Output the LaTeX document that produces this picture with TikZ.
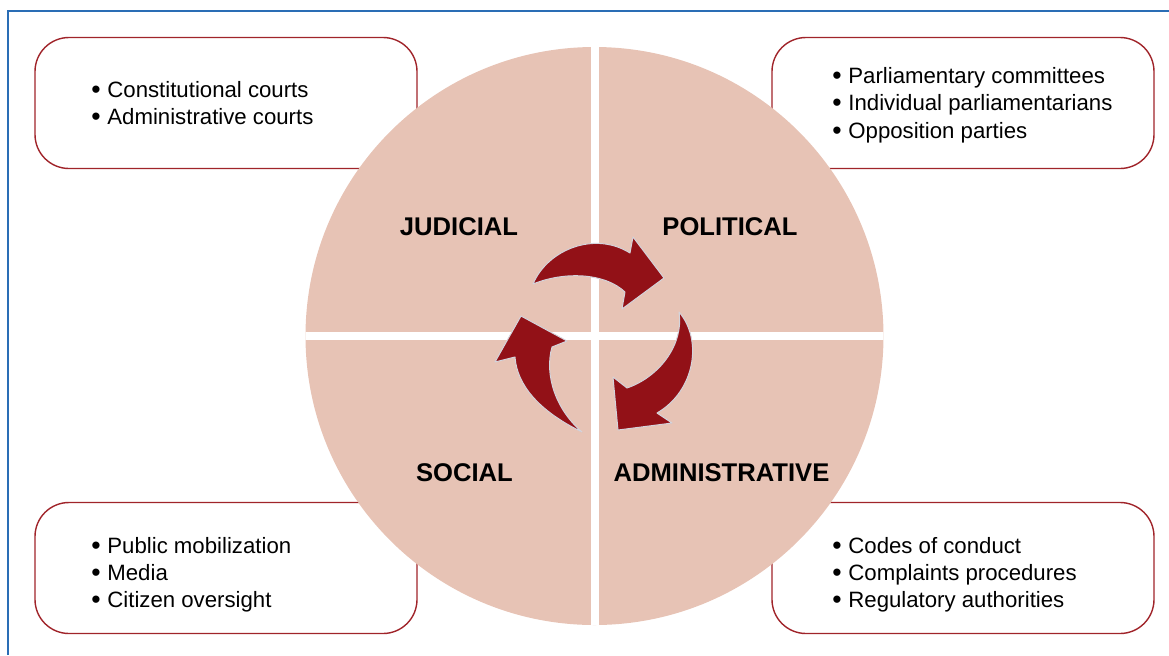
\documentclass[tikz,border=0pt]{standalone}
\usepackage{graphicx}
\usepackage{fontspec}
\setmainfont{Liberation Sans}
\definecolor{framebl}{HTML}{2A6DB5}
\definecolor{boxred}{HTML}{A0242A}
\definecolor{wheelfill}{HTML}{E7C3B5}
\definecolor{arrowred}{HTML}{921117}
\definecolor{arrowedge}{HTML}{D4D4DC}
\newcommand{\bul}{\makebox[8pt][l]{\raisebox{-0.06em}{\scalebox{1.2}{\textbullet}}}}
\begin{document}
\begin{tikzpicture}[x=0.5pt,y=-0.5pt,
  box/.style={draw=boxred, line width=0.7pt, rounded corners=17pt,
    minimum width=191pt, minimum height=65.5pt, inner sep=0pt},
  item/.style={anchor=base west, inner sep=0pt, font=\fontsize{11.1}{13}\selectfont},
  head/.style={anchor=base, inner sep=0pt, font=\fontsize{12.8}{15}\selectfont\bfseries},
  cyclearrow/.style={fill=arrowred, draw=arrowedge, line width=0.5pt, line join=round}]
\useasboundingbox (0,0) rectangle (1169,655);
% frame
\draw[framebl, line width=0.7pt] (8,655) -- (8,11) -- (1169,11);
% boxes
\node[box] (jbox) at (226,103) {};
\node[box] (pbox) at (963,103) {};
\node[box] (sbox) at (226,568) {};
\node[box] (abox) at (963,568) {};
% wheel
\node[circle, fill=wheelfill, minimum size=289pt, inner sep=0pt] (wheel) at (594.5,336) {};
\begin{scope}
  \clip (wheel.center) circle[radius=144.5pt];
  \fill[white] (590.5,30) rectangle (598.5,640);
  \fill[white] (290,332) rectangle (900,340);
\end{scope}
% headings
\node[head] (hj) at (459,235) {JUDICIAL};
\node[head] (hp) at (730,235) {POLITICAL};
\node[head] (hs) at (464.5,481) {SOCIAL};
\node[head] (ha) at (721.5,481) {ADMINISTRATIVE};
% arrows
\path[cyclearrow] (533,284) .. controls (548,249) and (595,231) .. (630,253)
  -- (633,237) -- (664,278) -- (622,309) -- (625,292)
  .. controls (605,273) and (565,271) .. (533,284) -- cycle;
\path[cyclearrow] (679,312) .. controls (703,340) and (695,391) .. (657,413)
  -- (672,423) -- (618,430) -- (613,377) -- (627,388)
  .. controls (659,377) and (684,345) .. (679,312) -- cycle;
\path[cyclearrow] (582,432) .. controls (539,411) and (517,385) .. (515,357)
  -- (495,362) -- (521,316) -- (567,341) -- (552,347)
  .. controls (544,375) and (556,410) .. (582,432) -- cycle;
% lists
\node[item] (j1) at (91,97) {\bul Constitutional courts};
\node[item] (j2) at (91,124) {\bul Administrative courts};
\node[item] (p1) at (832,83) {\bul Parliamentary committees};
\node[item] (p2) at (832,110.5) {\bul Individual parliamentarians};
\node[item] (p3) at (832,138) {\bul Opposition parties};
\node[item] (s1) at (91,553) {\bul Public mobilization};
\node[item] (s2) at (91,580) {\bul Media};
\node[item] (s3) at (91,607) {\bul Citizen oversight};
\node[item] (a1) at (832,553) {\bul Codes of conduct};
\node[item] (a2) at (832,580) {\bul Complaints procedures};
\node[item] (a3) at (832,607) {\bul Regulatory authorities};
\end{tikzpicture}
\end{document}
